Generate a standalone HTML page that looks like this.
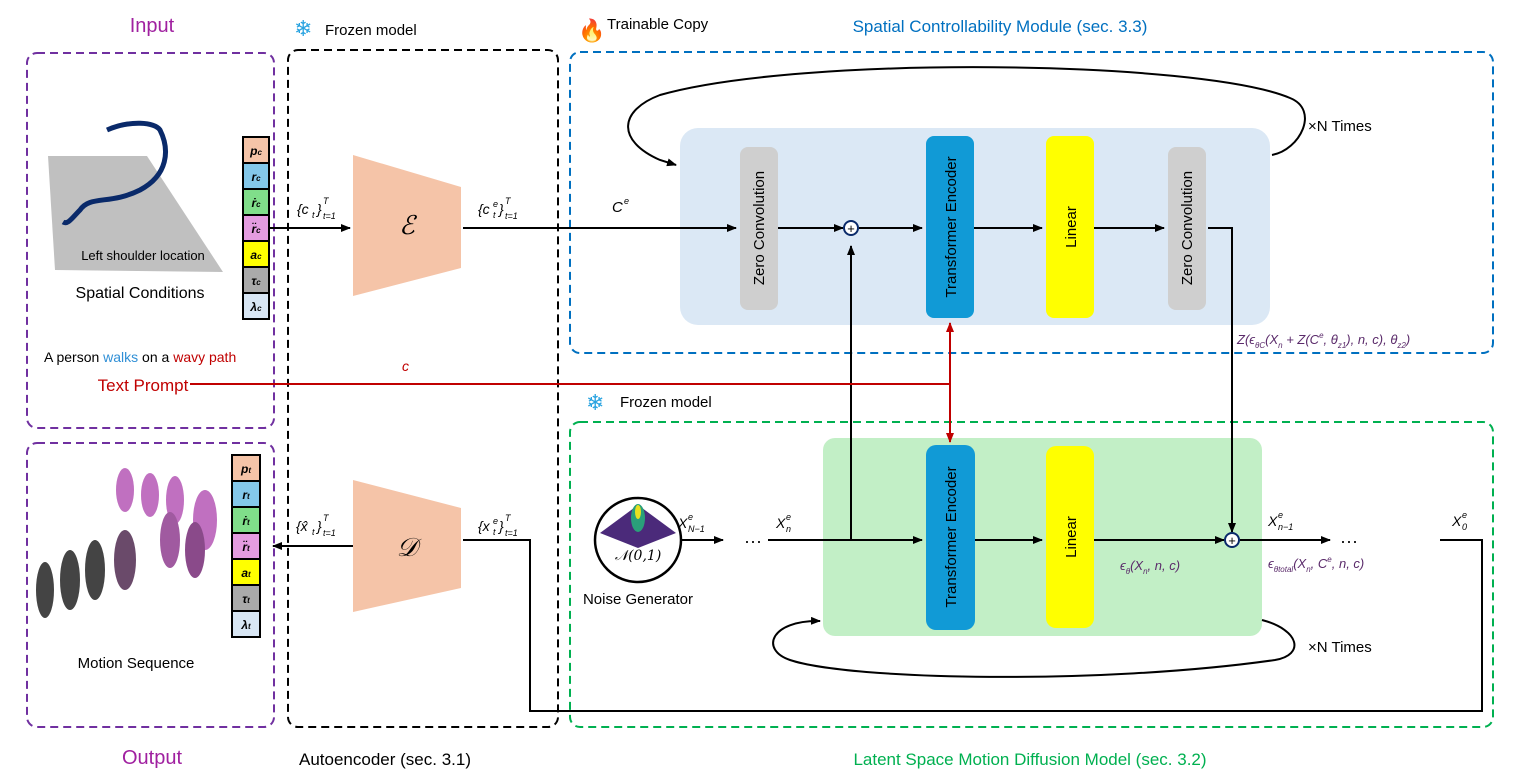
<!DOCTYPE html>
<html><head><meta charset="utf-8"><style>body{margin:0;background:#fff}svg{display:block}text{font-family:"Liberation Sans",sans-serif}.m{font-family:"DejaVu Serif","Liberation Serif",serif;font-style:italic}</style></head><body>
<svg width="1522" height="784" viewBox="0 0 1522 784" xmlns="http://www.w3.org/2000/svg">
<defs><marker id="a" markerWidth="10" markerHeight="8" refX="9" refY="4" orient="auto" markerUnits="userSpaceOnUse"><path d="M0,0L10,4L0,8z" fill="#000"/></marker>
<marker id="r" markerWidth="10" markerHeight="8" refX="9" refY="4" orient="auto" markerUnits="userSpaceOnUse"><path d="M0,0L10,4L0,8z" fill="#c00000"/></marker></defs>
<g fill="none" stroke-width="2" stroke-dasharray="8,5">
<rect x="27" y="53" width="247" height="375" rx="10" stroke="#7030a0"/>
<rect x="27" y="443" width="247" height="284" rx="10" stroke="#7030a0"/>
<rect x="288" y="50" width="270" height="677" rx="10" stroke="#000"/>
<rect x="570" y="52" width="923" height="301" rx="10" stroke="#0070c0"/>
<rect x="570" y="422" width="923" height="305" rx="10" stroke="#00b050"/>
</g>
<text x="152" y="32" font-size="20" fill="#a020a0" text-anchor="middle">Input</text>
<text x="152" y="764" font-size="20" fill="#a020a0" text-anchor="middle">Output</text>
<text x="294" y="36" font-size="22" fill="#29a3e0">❄</text><text x="325" y="35" font-size="15">Frozen model</text>
<text x="578" y="38" font-size="22" fill="#e05a1a">🔥</text><text x="607" y="29" font-size="15">Trainable Copy</text>
<text x="1000" y="32" font-size="17" fill="#0070c0" text-anchor="middle">Spatial Controllability Module (sec. 3.3)</text>
<text x="586" y="410" font-size="22" fill="#29a3e0">❄</text><text x="620" y="407" font-size="15">Frozen model</text>
<text x="385" y="765" font-size="17" text-anchor="middle">Autoencoder (sec. 3.1)</text>
<text x="1030" y="765" font-size="17" fill="#00b050" text-anchor="middle">Latent Space Motion Diffusion Model (sec. 3.2)</text>
<polygon points="48,156 147,156 223,272 55,270" fill="#c0c0c0"/>
<path d="M107,130 C130,120 155,122 160,130 C170,150 168,175 140,190 C110,205 90,195 80,210 C72,218 68,225 63,222" fill="none" stroke="#0a2a6a" stroke-width="5"/>
<text x="143" y="260" font-size="13" text-anchor="middle">Left shoulder location</text>
<text x="140" y="298" font-size="16" text-anchor="middle">Spatial Conditions</text>
<text x="44" y="362" font-size="14">A person <tspan fill="#2f8fd6">walks</tspan> on a <tspan fill="#c00000">wavy path</tspan></text>
<text x="143" y="391" font-size="17" fill="#c00000" text-anchor="middle">Text Prompt</text>
<g stroke="#000" stroke-width="2">
<rect x="243" y="137" width="26" height="26" fill="#f5c4a8"/><rect x="243" y="163" width="26" height="26" fill="#84c8ea"/><rect x="243" y="189" width="26" height="26" fill="#80de8a"/><rect x="243" y="215" width="26" height="26" fill="#e49ce0"/><rect x="243" y="241" width="26" height="26" fill="#ffff00"/><rect x="243" y="267" width="26" height="26" fill="#aaa"/><rect x="243" y="293" width="26" height="26" fill="#d8e6f4"/>
<rect x="232" y="455" width="28" height="26" fill="#f5c4a8"/><rect x="232" y="481" width="28" height="26" fill="#84c8ea"/><rect x="232" y="507" width="28" height="26" fill="#80de8a"/><rect x="232" y="533" width="28" height="26" fill="#e49ce0"/><rect x="232" y="559" width="28" height="26" fill="#ffff00"/><rect x="232" y="585" width="28" height="26" fill="#aaa"/><rect x="232" y="611" width="28" height="26" fill="#d8e6f4"/>
</g>
<g class="m" font-size="12" font-weight="bold" text-anchor="middle">
<text x="256" y="155">p<tspan font-size="8">c</tspan></text><text x="256" y="181">r<tspan font-size="8">c</tspan></text><text x="256" y="207">ṙ<tspan font-size="8">c</tspan></text><text x="256" y="233">r̈<tspan font-size="8">c</tspan></text><text x="256" y="259">a<tspan font-size="8">c</tspan></text><text x="256" y="285">τ<tspan font-size="8">c</tspan></text><text x="256" y="311">λ<tspan font-size="8">c</tspan></text>
<text x="246" y="473">p<tspan font-size="8">t</tspan></text><text x="246" y="499">r<tspan font-size="8">t</tspan></text><text x="246" y="525">ṙ<tspan font-size="8">t</tspan></text><text x="246" y="551">r̈<tspan font-size="8">t</tspan></text><text x="246" y="577">a<tspan font-size="8">t</tspan></text><text x="246" y="603">τ<tspan font-size="8">t</tspan></text><text x="246" y="629">λ<tspan font-size="8">t</tspan></text>
</g>
<g fill="#c070c0"><ellipse cx="125" cy="490" rx="9" ry="22"/><ellipse cx="150" cy="495" rx="9" ry="22"/><ellipse cx="175" cy="500" rx="9" ry="24"/><ellipse cx="205" cy="520" rx="12" ry="30"/><ellipse cx="170" cy="540" rx="10" ry="28" fill="#a05aa0"/><ellipse cx="195" cy="550" rx="10" ry="28" fill="#8a4a8a"/></g>
<g fill="#444"><ellipse cx="45" cy="590" rx="9" ry="28"/><ellipse cx="70" cy="580" rx="10" ry="30"/><ellipse cx="95" cy="570" rx="10" ry="30"/><ellipse cx="125" cy="560" rx="11" ry="30" fill="#6a4a6a"/></g>
<text x="136" y="668" font-size="15" text-anchor="middle">Motion Sequence</text>
<polygon points="353,155 461,187 461,268 353,296" fill="#f5c4a8"/>
<polygon points="353,480 461,508 461,588 353,612" fill="#f5c4a8"/>
<text x="407" y="234" class="m" font-size="26" text-anchor="middle">ℰ</text>
<text x="407" y="556" class="m" font-size="26" text-anchor="middle">𝒟</text>
<g class="m" font-size="14">
<text x="297" y="214">{c</text><text x="312" y="218" font-size="9">t</text><text x="317" y="214">}</text><text x="323" y="204" font-size="9">T</text><text x="323" y="219" font-size="9">t=1</text>
<text x="478" y="214">{c</text><text x="493" y="218" font-size="9">t</text><text x="493" y="207" font-size="9">e</text><text x="499" y="214">}</text><text x="505" y="204" font-size="9">T</text><text x="505" y="219" font-size="9">t=1</text>
<text x="296" y="531">{x̂</text><text x="312" y="535" font-size="9">t</text><text x="317" y="531">}</text><text x="323" y="521" font-size="9">T</text><text x="323" y="536" font-size="9">t=1</text>
<text x="478" y="531">{x</text><text x="493" y="535" font-size="9">t</text><text x="493" y="524" font-size="9">e</text><text x="499" y="531">}</text><text x="505" y="521" font-size="9">T</text><text x="505" y="536" font-size="9">t=1</text>
<text x="612" y="212" font-size="15">C</text><text x="624" y="204" font-size="9">e</text>
<text x="402" y="371" fill="#c00000">c</text>
</g>
<rect x="680" y="128" width="590" height="197" rx="18" fill="#dbe8f5"/>
<rect x="823" y="438" width="439" height="198" rx="12" fill="#c2efc6"/>
<rect x="740" y="147" width="38" height="163" rx="8" fill="#cfcfcf"/>
<rect x="1168" y="147" width="38" height="163" rx="8" fill="#cfcfcf"/>
<rect x="926" y="136" width="48" height="182" rx="8" fill="#119ad6"/>
<rect x="1046" y="136" width="48" height="182" rx="8" fill="#ffff00"/>
<rect x="926" y="445" width="49" height="185" rx="10" fill="#119ad6"/>
<rect x="1046" y="446" width="48" height="182" rx="10" fill="#ffff00"/>
<g font-size="15" text-anchor="middle">
<text transform="translate(764,228) rotate(-90)">Zero Convolution</text>
<text transform="translate(1192,228) rotate(-90)">Zero Convolution</text>
<text transform="translate(956,227) rotate(-90)">Transformer Encoder</text>
<text transform="translate(1076,227) rotate(-90)">Linear</text>
<text transform="translate(956,537) rotate(-90)">Transformer Encoder</text>
<text transform="translate(1076,537) rotate(-90)">Linear</text>
</g>
<g stroke="#000" stroke-width="2" fill="none">
<line x1="269" y1="228" x2="350" y2="228" marker-end="url(#a)"/>
<line x1="463" y1="228" x2="736" y2="228" marker-end="url(#a)"/>
<line x1="778" y1="228" x2="843" y2="228" marker-end="url(#a)"/>
<line x1="859" y1="228" x2="922" y2="228" marker-end="url(#a)"/>
<line x1="974" y1="228" x2="1042" y2="228" marker-end="url(#a)"/>
<line x1="1094" y1="228" x2="1164" y2="228"  marker-end="url(#a)"/>
<polyline points="1208,228 1232,228 1232,532" marker-end="url(#a)"/>
<polyline points="851,540 851,246" marker-end="url(#a)"/>
<path d="M1272,155 C1300,150 1320,110 1290,98 C1200,60 800,55 660,95 C620,110 615,140 660,160 L676,165" marker-end="url(#a)"/>
<line x1="676" y1="540" x2="723" y2="540" marker-end="url(#a)"/>
<line x1="768" y1="540" x2="922" y2="540" marker-end="url(#a)"/>
<line x1="975" y1="540" x2="1042" y2="540" marker-end="url(#a)"/>
<line x1="1094" y1="540" x2="1224" y2="540" marker-end="url(#a)"/>
<line x1="1240" y1="540" x2="1330" y2="540" marker-end="url(#a)"/>
<path d="M1262,620 C1300,630 1305,655 1275,660 C1100,685 850,680 790,660 C760,650 770,620 820,621" marker-end="url(#a)"/>
<polyline points="1440,540 1482,540 1482,711 530,711 530,540 463,540"/>
<line x1="353" y1="546" x2="273" y2="546" marker-end="url(#a)"/>
<circle cx="851" cy="228" r="7" stroke="#0a2a6a" fill="#fff"/>
<circle cx="1232" cy="540" r="7" stroke="#0a2a6a" fill="#fff"/>
<ellipse cx="638" cy="540" rx="43" ry="42" stroke-width="2.5" fill="#fff"/>
</g>
<text x="851" y="233" font-size="13" text-anchor="middle">+</text>
<text x="1232" y="545" font-size="13" text-anchor="middle">+</text>
<g stroke="#c00000" stroke-width="2" fill="none">
<line x1="190" y1="384" x2="950" y2="384"/>
<line x1="950" y1="384" x2="950" y2="323" marker-end="url(#r)"/>
<line x1="950" y1="384" x2="950" y2="442" marker-end="url(#r)"/>
</g>
<polygon points="600,533 638,505 676,533 638,548" fill="#4b2a7a"/><ellipse cx="638" cy="518" rx="7" ry="14" fill="#2aa07a"/><ellipse cx="638" cy="512" rx="3" ry="7" fill="#e8e020"/>
<text x="638" y="560" class="m" font-size="14" text-anchor="middle">𝒩(0,1)</text>
<text x="638" y="604" font-size="15" text-anchor="middle">Noise Generator</text>
<text x="744" y="547" font-size="18">···</text><text x="1340" y="547" font-size="18">···</text>
<g class="m" font-size="14">
<text x="678" y="528">X</text><text x="688" y="520" font-size="9">e</text><text x="688" y="532" font-size="9">N−1</text>
<text x="776" y="528">X</text><text x="786" y="520" font-size="9">e</text><text x="786" y="532" font-size="9">n</text>
<text x="1268" y="526">X</text><text x="1278" y="518" font-size="9">e</text><text x="1278" y="530" font-size="9">n−1</text>
<text x="1452" y="526">X</text><text x="1462" y="518" font-size="9">e</text><text x="1462" y="530" font-size="9">0</text>
</g>
<g class="m" font-size="13" fill="#5a2a6a">
<text x="1120" y="570">ϵ<tspan font-size="8" dy="4">θ</tspan><tspan dy="-4">(X</tspan><tspan font-size="8" dy="4">n</tspan><tspan dy="-4">, n, c)</tspan></text>
<text x="1268" y="568">ϵ<tspan font-size="8" dy="4">θtotal</tspan><tspan dy="-4">(X</tspan><tspan font-size="8" dy="4">n</tspan><tspan dy="-4">, C</tspan><tspan font-size="8" dy="-6">e</tspan><tspan dy="6">, n, c)</tspan></text>
<text x="1237" y="344">Z(ϵ<tspan font-size="8" dy="4">θC</tspan><tspan dy="-4">(X</tspan><tspan font-size="8" dy="4">n</tspan><tspan dy="-4"> + Z(C</tspan><tspan font-size="8" dy="-6">e</tspan><tspan dy="6">, θ</tspan><tspan font-size="8" dy="4">z1</tspan><tspan dy="-4">), n, c), θ</tspan><tspan font-size="8" dy="4">z2</tspan><tspan dy="-4">)</tspan></text>
</g>
<text x="1308" y="131" font-size="15">×N Times</text>
<text x="1308" y="652" font-size="15">×N Times</text>
</svg>
</body></html>
